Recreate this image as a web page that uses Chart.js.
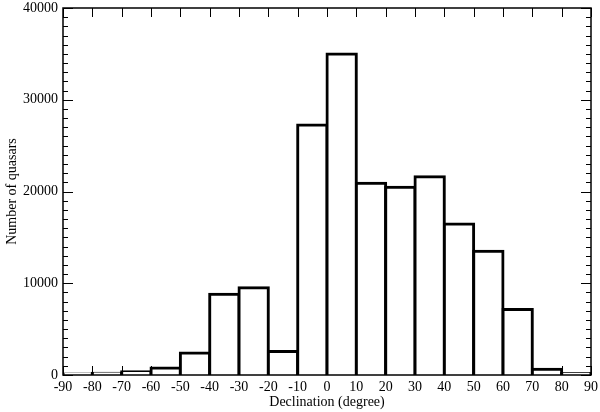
<!DOCTYPE html>
<html>
<head>
<meta charset="utf-8">
<script src="https://cdn.jsdelivr.net/npm/chart.js@4/dist/chart.umd.min.js"></script>
<style>
  html, body { margin: 0; padding: 0; background: #fff; }
  #wrap { width: 600px; height: 412px; }
</style>
</head>
<body>
<div id="wrap"><canvas id="chart"></canvas></div>
<script>
// histogram bins: 10 degree wide, centres from -85 to 85
const binCenters = [-85, -75, -65, -55, -45, -35, -25, -15, -5, 5, 15, 25, 35, 45, 55, 65, 75, 85];
const counts = [100, 200, 350, 750, 2400, 8800, 9500, 2550, 27250, 35000, 20900, 20450, 21600, 16450, 13500, 7150, 620, 150];
const decRange = [-90, 90];
const countRange = [0, 40000];
const xTitle = 'Declination (degree)';
const yTitle = 'Number of quasars';

Chart.defaults.font.family = "'Liberation Serif', 'DejaVu Serif', serif";
Chart.defaults.font.size = 14;
Chart.defaults.color = '#000';

// frame + inward ticks on all four sides (like the original plot)
const frameTicks = {
  id: 'frameTicks',
  afterDraw(chart) {
    const {ctx, chartArea: a, scales} = chart;
    ctx.save();
    ctx.strokeStyle = '#000';
    ctx.lineWidth = 1;
    ctx.beginPath();
    for (const t of scales.y.ticks) {
      const py = Math.round(scales.y.getPixelForValue(t.value)) + 0.5;
      const len = t.value % 10000 === 0 ? 10 : 5;
      ctx.moveTo(a.left, py); ctx.lineTo(a.left + len, py);
      ctx.moveTo(a.right, py); ctx.lineTo(a.right - len, py);
    }
    for (const t of scales.x.ticks) {
      const px = Math.round(scales.x.getPixelForValue(t.value)) + 0.5;
      ctx.moveTo(px, a.bottom); ctx.lineTo(px, a.bottom - 9);
      ctx.moveTo(px, a.top); ctx.lineTo(px, a.top + 9);
    }
    ctx.stroke();
    ctx.lineWidth = 1.5;
    ctx.strokeRect(a.left, a.top, a.right - a.left, a.bottom - a.top);
    ctx.restore();
  }
};

new Chart(document.getElementById('chart'), {
  type: 'bar',
  data: {
    datasets: [{
      data: binCenters.map((c, i) => ({x: c, y: counts[i]})),
      backgroundColor: '#fff',
      borderColor: '#000',
      borderWidth: 3,
      inflateAmount: 1.5,
      borderSkipped: 'start',
      barPercentage: 1,
      categoryPercentage: 1
    }]
  },
  options: {
    responsive: true,
    maintainAspectRatio: false,
    animation: false,
    layout: { padding: { left: 0, right: 9, top: 8, bottom: 0 } },
    plugins: { legend: { display: false }, tooltip: { enabled: false } },
    scales: {
      x: {
        type: 'linear',
        min: decRange[0], max: decRange[1],
        offset: false,
        grid: { display: false, drawTicks: false, offset: false },
        border: { display: false },
        ticks: { stepSize: 10, padding: 4, maxRotation: 0, autoSkip: false },
        title: { display: true, text: xTitle, padding: { top: 0, bottom: 1 } },
        afterFit(s) { s.height = 37; s.paddingLeft = 0; s.paddingRight = 0; }
      },
      y: {
        min: countRange[0], max: countRange[1],
        grid: { display: false, drawTicks: false },
        border: { display: false },
        ticks: {
          stepSize: 1000, padding: 5, autoSkip: false,
          callback: v => v % 10000 === 0 ? String(v) : ''
        },
        title: { display: true, text: yTitle, padding: { top: 4, bottom: 0 } },
        afterFit(s) { s.width = 63; s.paddingTop = 0; s.paddingBottom = 0; }
      }
    }
  },
  plugins: [frameTicks]
});
</script>
</body>
</html>
